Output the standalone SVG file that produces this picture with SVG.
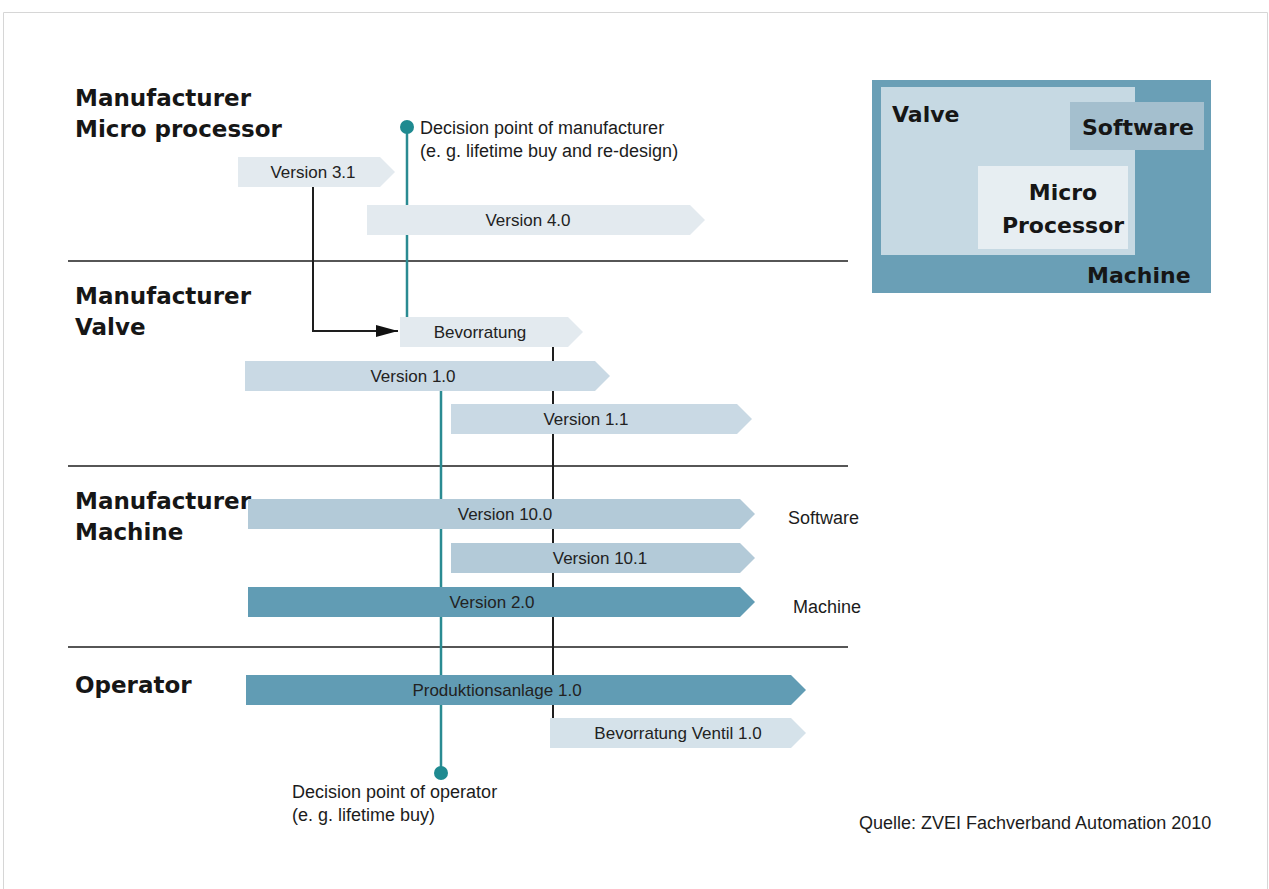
<svg xmlns="http://www.w3.org/2000/svg" width="1269" height="889" viewBox="0 0 1269 889">
  <style>
    .head { font-family: "DejaVu Sans", "Liberation Sans", sans-serif; font-weight: bold; font-size: 23px; fill: #161616; }
    .boxlbl { font-family: "DejaVu Sans", "Liberation Sans", sans-serif; font-weight: bold; font-size: 22px; fill: #161616; }
    .lbl { font-family: "Liberation Sans", Arial, sans-serif; font-size: 17px; fill: #222; text-anchor: middle; }
    .note { font-family: "Liberation Sans", Arial, sans-serif; font-size: 18px; fill: #1c1c1c; }
    .sep { stroke: #1e1e1e; stroke-width: 1.6; fill: none; }
    .teal { stroke: #2a8b92; stroke-width: 2.5; fill: none; }
    .blk { stroke: #1e1e1e; stroke-width: 2; fill: none; }
    .c1 { fill: #e3eaef; }
    .c2 { fill: #c9d9e4; }
    .c3 { fill: #b3cad8; }
    .c4 { fill: #619cb4; }
    .c5 { fill: #d5e2ea; }
  </style>
  <defs>
    <marker id="arrowhead" viewBox="0 0 22 12" refX="22" refY="6" markerWidth="22" markerHeight="12" markerUnits="userSpaceOnUse" orient="auto">
      <path d="M0,0 L22,6 L0,12 Z" fill="#111"/>
    </marker>
  </defs>

  <rect width="1269" height="889" fill="#ffffff"/>
  <!-- page frame -->
  <path d="M3.5,895 V12.5 H1267.5 V895" fill="none" stroke="#d6d6d6" stroke-width="1"/>

  <!-- section headings -->
  <g id="heading-microprocessor">
    <text class="head" x="75" y="106">Manufacturer</text>
    <text class="head" x="75" y="137">Micro processor</text>
  </g>
  <g id="heading-valve">
    <text class="head" x="75" y="304">Manufacturer</text>
    <text class="head" x="75" y="335">Valve</text>
  </g>
  <g id="heading-machine">
    <text class="head" x="75" y="509">Manufacturer</text>
    <text class="head" x="75" y="540">Machine</text>
  </g>
  <g id="heading-operator">
    <text class="head" x="75" y="693">Operator</text>
  </g>

  <!-- section separators and timeline guides -->
  <g id="connectors">
    <line class="sep" x1="68" y1="261" x2="848" y2="261"/>
    <line class="sep" x1="68" y1="466" x2="848" y2="466"/>
    <line class="sep" x1="68" y1="647" x2="848" y2="647"/>
    <!-- manufacturer decision line -->
    <line class="teal" x1="407" y1="126" x2="407" y2="318"/>
    <!-- operator decision line -->
    <line class="teal" x1="441" y1="390" x2="441" y2="773"/>
    <!-- stockpiling marker -->
    <line class="blk" x1="553" y1="346" x2="553" y2="719"/>
    <!-- Version 3.1 feeds stockpiling -->
    <path class="blk" d="M313,187 V331 H398" marker-end="url(#arrowhead)"/>
  </g>

  <!-- decision points -->
  <g id="decision-manufacturer">
    <circle cx="407" cy="127" r="7" fill="#1f8a90"/>
    <text class="note" x="420" y="134">Decision point of manufacturer</text>
    <text class="note" x="420" y="157">(e. g. lifetime buy and re-design)</text>
  </g>
  <g id="decision-operator">
    <circle cx="441" cy="773" r="7" fill="#1f8a90"/>
    <text class="note" x="292" y="798">Decision point of operator</text>
    <text class="note" x="292" y="821">(e. g. lifetime buy)</text>
  </g>

  <!-- version bars -->
  <g id="bar-v31">
    <polygon class="c1" points="238,157 380,157 395,172 380,187 238,187"/>
    <text class="lbl" x="313" y="178">Version 3.1</text>
  </g>
  <g id="bar-v40">
    <polygon class="c1" points="367,205 690,205 705,220 690,235 367,235"/>
    <text class="lbl" x="528" y="226">Version 4.0</text>
  </g>
  <g id="bar-bevorratung">
    <polygon class="c1" points="400,317 568,317 583,332 568,347 400,347"/>
    <text class="lbl" x="480" y="338">Bevorratung</text>
  </g>
  <g id="bar-v10">
    <polygon class="c2" points="245,361 595,361 610,376 595,391 245,391"/>
    <text class="lbl" x="413" y="382">Version 1.0</text>
  </g>
  <g id="bar-v11">
    <polygon class="c2" points="451,404 737,404 752,419 737,434 451,434"/>
    <text class="lbl" x="586" y="425">Version 1.1</text>
  </g>
  <g id="bar-v100">
    <polygon class="c3" points="248,499 740,499 755,514 740,529 248,529"/>
    <text class="lbl" x="505" y="520">Version 10.0</text>
  </g>
  <g id="bar-v101">
    <polygon class="c3" points="451,543 740,543 755,558 740,573 451,573"/>
    <text class="lbl" x="600" y="564">Version 10.1</text>
  </g>
  <g id="bar-v20">
    <polygon class="c4" points="248,587 740,587 755,602 740,617 248,617"/>
    <text class="lbl" x="492" y="608">Version 2.0</text>
  </g>
  <g id="bar-produktionsanlage">
    <polygon class="c4" points="246,675 791,675 806,690 791,705 246,705"/>
    <text class="lbl" x="497" y="696">Produktionsanlage 1.0</text>
  </g>
  <g id="bar-bevorratung-ventil">
    <polygon class="c5" points="550,718 791,718 806,733 791,748 550,748"/>
    <text class="lbl" x="678" y="739">Bevorratung Ventil 1.0</text>
  </g>

  <!-- row labels -->
  <g id="label-software">
    <text class="note" x="788" y="524">Software</text>
  </g>
  <g id="label-machine">
    <text class="note" x="793" y="613">Machine</text>
  </g>

  <!-- nesting of components -->
  <g id="box-machine">
    <rect x="872" y="80" width="339" height="213" fill="#6a9fb6"/>
    <text class="boxlbl" x="1087" y="283">Machine</text>
  </g>
  <g id="box-valve">
    <rect x="881" y="87" width="254" height="168" fill="#c6d9e3"/>
    <text class="boxlbl" x="892" y="122">Valve</text>
  </g>
  <g id="box-software">
    <rect x="1070" y="102" width="134" height="48" fill="#a4bfce"/>
    <text class="boxlbl" x="1082" y="135">Software</text>
  </g>
  <g id="box-microprocessor">
    <rect x="978" y="166" width="150" height="83" fill="#e7eef2"/>
    <text class="boxlbl" x="1063" y="200" text-anchor="middle">Micro</text>
    <text class="boxlbl" x="1063" y="233" text-anchor="middle">Processor</text>
  </g>

  <!-- source -->
  <g id="source">
    <text class="note" x="859" y="829">Quelle: ZVEI Fachverband Automation 2010</text>
  </g>
</svg>
